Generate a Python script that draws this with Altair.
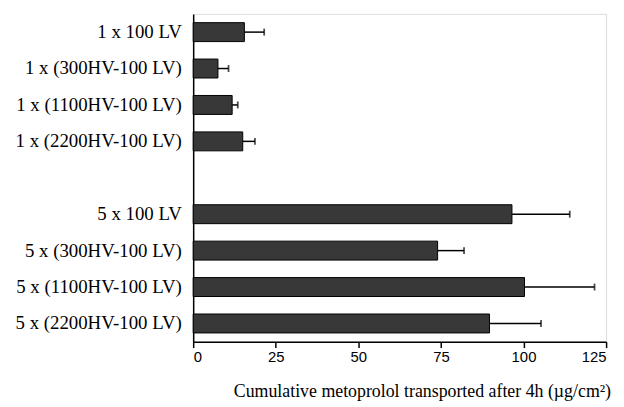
import altair as alt
import pandas as pd

categories = [
    "1 x 100 LV",
    "1 x (300HV-100 LV)",
    "1 x (1100HV-100 LV)",
    "1 x (2200HV-100 LV)",
    "5 x 100 LV",
    "5 x (300HV-100 LV)",
    "5 x (1100HV-100 LV)",
    "5 x (2200HV-100 LV)",
]
means = [15.5, 7.5, 11.8, 15.0, 96.5, 74.0, 100.3, 89.7]
upper = [21.5, 10.7, 13.5, 18.7, 114.0, 82.0, 121.5, 105.3]

domain_order = categories[:4] + [" "] + categories[4:]
x_ticks = [0, 25, 50, 75, 100, 125]

df = pd.DataFrame({"cat": categories, "mean": means, "upper": upper})

y_enc = alt.Y(
    "cat:N",
    sort=domain_order,
    scale=alt.Scale(domain=domain_order, paddingInner=0.48, paddingOuter=0.24),
    axis=alt.Axis(
        title=None,
        ticks=False,
        labelFont="Liberation Serif",
        labelFontSize=19,
        labelColor="black",
        labelPadding=12,
        domainColor="black",
        domainWidth=1.5,
        grid=False,
    ),
)

x_scale = alt.Scale(domain=[0, 125], nice=False)

bars = alt.Chart(df).mark_bar(color="#383838", stroke="black", strokeWidth=1).encode(
    y=y_enc,
    x=alt.X(
        "mean:Q",
        scale=x_scale,
        axis=alt.Axis(
            values=x_ticks,
            title="Cumulative metoprolol transported after 4h (µg/cm²)",
            titleFont="Liberation Serif",
            titleFontSize=18,
            titleFontWeight="normal",
            titleColor="black",
            titleX=231,
            titleY=50,
            titleBaseline="middle",
            titleAnchor="start",
            titleAlign="center",
            labelFont="Liberation Sans",
            labelFontSize=15,
            labelColor="black",
            labelPadding=2,
            tickSize=6,
            tickColor="black",
            tickWidth=1.5,
            domainColor="black",
            domainWidth=1.5,
            grid=False,
        ),
    ),
)

err = alt.Chart(df).mark_rule(color="black", strokeWidth=1.5).encode(
    y=alt.Y("cat:N", sort=domain_order),
    x=alt.X("mean:Q", scale=x_scale),
    x2="upper:Q",
)

caps = alt.Chart(df).mark_tick(color="black", size=7, thickness=1.8).encode(
    y=alt.Y("cat:N", sort=domain_order),
    x=alt.X("upper:Q", scale=x_scale),
)

chart = (
    alt.layer(bars, err, caps)
    .properties(
        width=417,
        height=331,
        autosize=alt.AutoSizeParams(type="none"),
        padding={"left": 187, "top": 4, "right": 10, "bottom": 62},
    )
    .configure_view(stroke=None)
    .configure(background="white")
)

chart.save("out.html", embed_options={"renderer": "svg", "actions": False})
